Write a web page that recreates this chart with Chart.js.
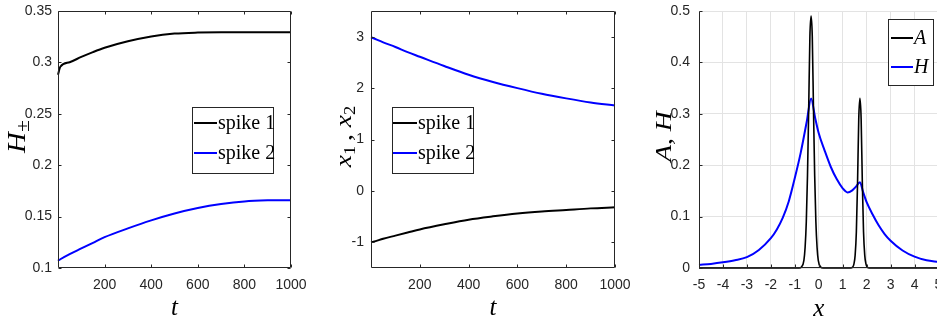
<!DOCTYPE html>
<html>
<head>
<meta charset="utf-8">
<script src="https://cdn.jsdelivr.net/npm/chart.js@4.4.1/dist/chart.umd.min.js"></script>
<style>
  html, body { margin: 0; padding: 0; background: #fff; overflow: hidden; width: 937px; height: 320px; }
  canvas { position: absolute; top: 0; }
</style>
</head>
<body>
<canvas id="c1" width="310" height="320" style="left:0px"></canvas>
<canvas id="c2" width="320" height="320" style="left:310px"></canvas>
<canvas id="c3" width="330" height="320" style="left:620px"></canvas>
<script>
// ---- data ----
const tValues = [0, 10, 50, 100, 150, 200, 300, 400, 500, 600, 700, 800, 900, 1000];
const hSpike1 = [0.288, 0.2958, 0.3002, 0.3053, 0.31, 0.3142, 0.3205, 0.3252, 0.328, 0.329, 0.3293, 0.3293, 0.3293, 0.3293];
const hSpike2 = [0.107, 0.1085, 0.1135, 0.119, 0.1245, 0.13, 0.1385, 0.1463, 0.153, 0.1583, 0.1622, 0.1648, 0.1658, 0.166];
const posSpike1 = [-1.0, -0.99, -0.93, -0.87, -0.81, -0.75, -0.65, -0.56, -0.495, -0.44, -0.4, -0.37, -0.34, -0.32];
const posSpike2 = [2.99, 2.97, 2.89, 2.8, 2.7, 2.61, 2.43, 2.26, 2.12, 2.0, 1.89, 1.8, 1.72, 1.66];

const xA = [-5, -0.82, -0.72, -0.62, -0.57, -0.52, -0.47, -0.42, -0.37, -0.32, -0.27, -0.22, -0.17, -0.12, -0.07, -0.02, 0.08, 0.18,
  1.32, 1.42, 1.47, 1.52, 1.57, 1.62, 1.67, 1.72, 1.77, 1.82, 1.87, 1.92, 1.97, 2.02, 2.12, 5];
const yA = [0, 0, 0.002, 0.015, 0.04, 0.09, 0.18, 0.31, 0.45, 0.49, 0.45, 0.31, 0.18, 0.09, 0.04, 0.015, 0.002, 0,
  0, 0.002, 0.008, 0.025, 0.07, 0.165, 0.29, 0.33, 0.29, 0.165, 0.07, 0.025, 0.008, 0.002, 0, 0];
const xH = [-5, -4.5, -4, -3.5, -3, -2.5, -2, -1.75, -1.5, -1.25, -1, -0.75, -0.5, -0.32, -0.15, 0, 0.25, 0.5, 0.75, 1, 1.2, 1.4,
  1.55, 1.72, 1.85, 2, 2.25, 2.5, 2.75, 3, 3.5, 4, 4.5, 5];
const yH = [0.006, 0.008, 0.011, 0.015, 0.021, 0.035, 0.058, 0.075, 0.098, 0.13, 0.175, 0.225, 0.285, 0.33, 0.292, 0.262, 0.228,
  0.197, 0.173, 0.155, 0.147, 0.151, 0.158, 0.167, 0.148, 0.128, 0.104, 0.083, 0.066, 0.053, 0.034, 0.022, 0.015, 0.012];

const tTicks = [200, 400, 600, 800, 1000];
const hTicks = [0.1, 0.15, 0.2, 0.25, 0.3, 0.35];
const posTicks = [-1, 0, 1, 2, 3];
const xTicks = [-5, -4, -3, -2, -1, 0, 1, 2, 3, 4, 5];
const ahTicks = [0, 0.1, 0.2, 0.3, 0.4, 0.5];

// ---- styling ----
const axisColor = "#262626";
const tickFont = { family: '"Liberation Sans Narrow", "Liberation Sans", sans-serif', size: 14 };
const mathFont = (size) => `italic ${size}px "Liberation Serif", "DejaVu Serif", serif`;
const romanFont = (size) => `${size}px "Liberation Serif", "DejaVu Serif", serif`;

const toPoints = (xs, ys) => xs.map((x, i) => ({ x: x, y: ys[i] }));
const fmt = (v) => String(+Number(v).toFixed(2));

// draw a run of text pieces (used for subscripts), optionally rotated
const drawRich = (ctx, pieces, cx, baseY, rotate, stretch) => {
  ctx.save();
  ctx.translate(cx, baseY);
  if (rotate) ctx.rotate(-Math.PI / 2);
  ctx.scale(stretch || 1, 1);
  let w = 0;
  pieces.forEach((p) => { ctx.font = p.font; w += ctx.measureText(p.text).width + (p.gap || 0); });
  let x = -w / 2;
  ctx.textAlign = "left";
  ctx.textBaseline = "alphabetic";
  ctx.fillStyle = "#000";
  pieces.forEach((p) => {
    ctx.font = p.font;
    ctx.fillText(p.text, x, p.dy || 0);
    x += ctx.measureText(p.text).width + (p.gap || 0);
  });
  ctx.restore();
};

const axisDecor = {
  id: "axisDecor",
  afterDraw(chart, args, opts) {
    const { ctx, chartArea: a } = chart;
    const xs = chart.scales.x;
    const ys = chart.scales.y;
    const L = Math.round(a.left) + 0.5;
    const R = Math.round(a.right) - 0.5;
    const T = Math.round(a.top) + 0.5;
    const B = Math.round(a.bottom) - 0.5;
    const tl = 3;
    ctx.save();
    ctx.strokeStyle = axisColor;
    ctx.lineWidth = 1;
    ctx.beginPath();
    ctx.moveTo(L, T);
    ctx.lineTo(L, B);
    ctx.lineTo(R, B);
    if (opts.box) {
      ctx.lineTo(R, T);
      ctx.lineTo(L, T);
    }
    xs.ticks.forEach((t) => {
      const px = Math.round(xs.getPixelForValue(t.value)) + 0.5;
      ctx.moveTo(px, B);
      ctx.lineTo(px, B - tl);
      if (opts.box) { ctx.moveTo(px, T); ctx.lineTo(px, T + tl); }
    });
    ys.ticks.forEach((t) => {
      const py = Math.round(ys.getPixelForValue(t.value)) + 0.5;
      ctx.moveTo(L, py);
      ctx.lineTo(L + tl, py);
      if (opts.box) { ctx.moveTo(R, py); ctx.lineTo(R - tl, py); }
    });
    ctx.stroke();

    // axis titles
    const midX = (a.left + a.right) / 2;
    const midY = (a.top + a.bottom) / 2;
    drawRich(ctx, opts.xTitle, midX, opts.xTitleY, false, 1);
    drawRich(ctx, opts.yTitle, opts.yTitleX, midY - 3, true, opts.yStretch || 1.2);

    // legend box
    const lg = opts.legend;
    const bx = lg.box;
    ctx.fillStyle = "#fff";
    ctx.fillRect(bx[0], bx[1], bx[2], bx[3]);
    ctx.strokeStyle = axisColor;
    ctx.lineWidth = 1;
    ctx.strokeRect(bx[0] + 0.5, bx[1] + 0.5, bx[2], bx[3]);
    chart.data.datasets.forEach((ds, i) => {
      const y = lg.rows[i];
      ctx.strokeStyle = ds.borderColor;
      ctx.lineWidth = 2;
      ctx.beginPath();
      ctx.moveTo(lg.lineX[0], y);
      ctx.lineTo(lg.lineX[1], y);
      ctx.stroke();
      ctx.fillStyle = "#000";
      ctx.font = lg.font;
      ctx.textAlign = "left";
      ctx.textBaseline = "middle";
      ctx.fillText(ds.label, lg.textX, y + 1);
    });
    ctx.restore();
  },
};

// keep the plot box exactly where the layout padding puts it
const noScalePadding = (s) => {
  s.paddingTop = 0;
  s.paddingBottom = 0;
  s.paddingLeft = 0;
  s.paddingRight = 0;
};

const makeScales = (cfg) => ({
  x: {
    type: "linear",
    min: cfg.xMin,
    max: cfg.xMax,
    afterBuildTicks: (s) => { s.ticks = cfg.xTicks.map((v) => ({ value: v })); },
    afterFit: (s) => { s.height = 52; noScalePadding(s); },
    grid: { display: cfg.grid, color: "#e3e3e3", lineWidth: 1, drawTicks: false },
    border: { display: false },
    ticks: { font: tickFont, color: axisColor, padding: 9, maxRotation: 0, autoSkip: false, callback: fmt },
  },
  y: {
    type: "linear",
    min: cfg.yMin,
    max: cfg.yMax,
    afterBuildTicks: (s) => { s.ticks = cfg.yTicks.map((v) => ({ value: v })); },
    afterFit: (s) => { s.width = cfg.yWidth; noScalePadding(s); },
    grid: { display: cfg.grid, color: "#e3e3e3", lineWidth: 1, drawTicks: false },
    border: { display: false },
    ticks: { font: tickFont, color: axisColor, padding: cfg.yPad, autoSkip: false, callback: fmt },
  },
});

const lineSet = (label, color, data, width) => ({
  label: label,
  data: data,
  borderColor: color,
  backgroundColor: color,
  borderWidth: width,
  pointRadius: 0,
  fill: false,
  cubicInterpolationMode: "monotone",
  clip: false,
});

const baseOptions = (cfg, decor) => ({
  responsive: false,
  animation: false,
  events: [],
  layout: { padding: { top: 11, right: cfg.padRight, bottom: 0, left: 0 } },
  scales: makeScales(cfg),
  plugins: { legend: { display: false }, tooltip: { enabled: false }, axisDecor: decor },
});

// ---- panel 1: H+- against t ----
new Chart(document.getElementById("c1"), {
  type: "line",
  data: {
    datasets: [
      lineSet("spike 1", "#000000", toPoints(tValues, hSpike1), 2),
      lineSet("spike 2", "#0000ff", toPoints(tValues, hSpike2), 2),
    ],
  },
  options: baseOptions(
    { xMin: 0, xMax: 1000, xTicks: tTicks, yMin: 0.1, yMax: 0.35, yTicks: hTicks, yWidth: 58, yPad: 6, padRight: 19, grid: false },
    {
      box: true,
      xTitle: [{ text: "t", font: mathFont(25) }],
      xTitleY: 315,
      yTitle: [{ text: "H", font: mathFont(25) }, { text: "±", font: romanFont(19), dy: 4 }],
      yTitleX: 25,
      yStretch: 1.15,
      legend: { box: [192, 107, 81, 66], rows: [123, 153], lineX: [194, 217], textX: 218, font: romanFont(20) },
    }
  ),
  plugins: [axisDecor],
});

// ---- panel 2: x1, x2 against t ----
new Chart(document.getElementById("c2"), {
  type: "line",
  data: {
    datasets: [
      lineSet("spike 1", "#000000", toPoints(tValues, posSpike1), 2),
      lineSet("spike 2", "#0000ff", toPoints(tValues, posSpike2), 2),
    ],
  },
  options: baseOptions(
    { xMin: 0, xMax: 1000, xTicks: tTicks, yMin: -1.5, yMax: 3.5, yTicks: posTicks, yWidth: 61, yPad: 7, padRight: 15, grid: false },
    {
      box: true,
      xTitle: [{ text: "t", font: mathFont(25) }],
      xTitleY: 315,
      yTitle: [
        { text: "x", font: mathFont(24) },
        { text: "1", font: romanFont(16), dy: 4, gap: 4 },
        { text: ",", font: romanFont(24), gap: 6 },
        { text: "x", font: mathFont(24) },
        { text: "2", font: romanFont(16), dy: 4 },
      ],
      yTitleX: 41,
      yStretch: 1.15,
      legend: { box: [82, 107, 81, 66], rows: [123, 153], lineX: [83, 107], textX: 108, font: romanFont(20) },
    }
  ),
  plugins: [axisDecor],
});

// ---- panel 3: A and H against x ----
new Chart(document.getElementById("c3"), {
  type: "line",
  data: {
    datasets: [
      lineSet("A", "#000000", toPoints(xA, yA), 1.6),
      lineSet("H", "#0000ff", toPoints(xH, yH), 2),
    ],
  },
  options: baseOptions(
    { xMin: -5, xMax: 5, xTicks: xTicks, yMin: 0, yMax: 0.5, yTicks: ahTicks, yWidth: 79, yPad: 9, padRight: 11.5, grid: true },
    {
      box: false,
      xTitle: [{ text: "x", font: mathFont(25) }],
      xTitleY: 316,
      yTitle: [
        { text: "A", font: mathFont(24) },
        { text: ",", font: romanFont(24), gap: 6 },
        { text: "H", font: mathFont(24) },
      ],
      yTitleX: 51,
      yStretch: 1.15,
      legend: { box: [268, 19, 45, 66], rows: [38, 67], lineX: [271, 293], textX: 294, font: mathFont(20) },
    }
  ),
  plugins: [axisDecor],
});
</script>
</body>
</html>
